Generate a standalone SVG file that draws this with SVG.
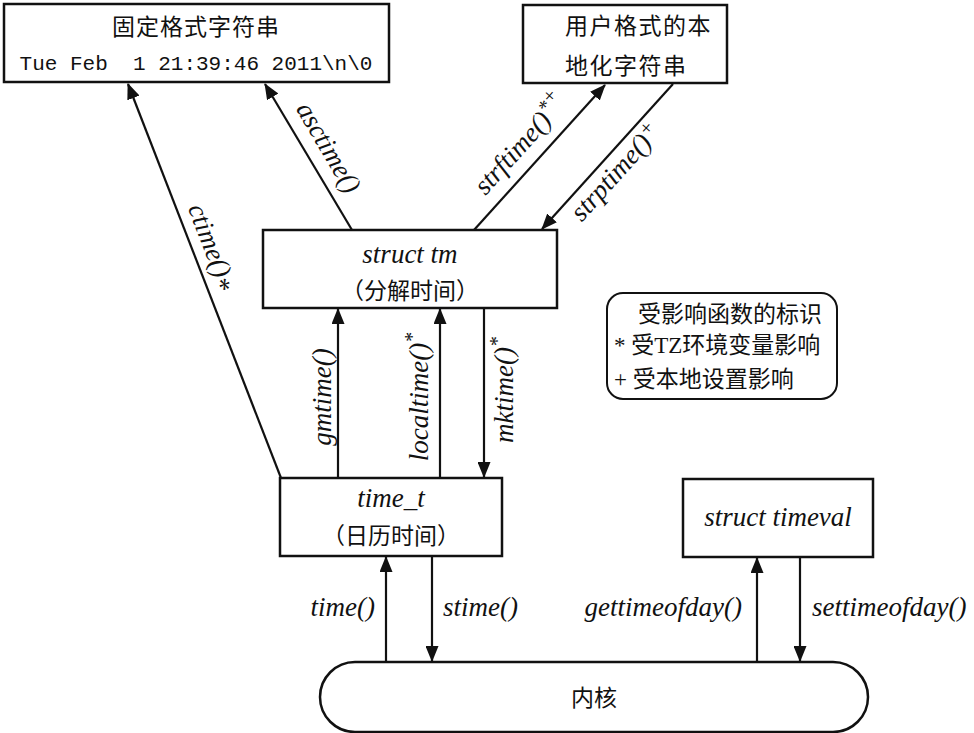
<svg xmlns="http://www.w3.org/2000/svg" width="974" height="733" viewBox="0 0 974 733">
<style>
.box{fill:#fff;stroke:#111;stroke-width:2.5}
.cn{font-family:"Liberation Serif","Noto Sans CJK SC",serif;font-size:23px;fill:#111}
.it{font-family:"Liberation Serif",serif;font-style:italic;font-size:27px;fill:#111}
.mono{font-family:"Liberation Mono",monospace;font-size:21px;fill:#111;white-space:pre}
.con{stroke:#111;stroke-width:2.2;fill:none}
.sup{font-size:20px}
</style>
<defs>
<marker id="ah" markerUnits="userSpaceOnUse" markerWidth="16" markerHeight="13" viewBox="0 0 16 13" refX="15" refY="6.5" orient="auto">
<path d="M0,0 L16,6.5 L0,13 Z" fill="#111"/>
</marker>
</defs>
<rect width="974" height="733" fill="#fff"/>

<g id="fixed-string">
<rect class="box" x="4" y="4" width="385" height="78"/>
<text class="cn" x="196" y="35" text-anchor="middle" font-size="24" letter-spacing="1">固定格式字符串</text>
<text class="mono" x="196" y="70" text-anchor="middle" xml:space="preserve">Tue Feb  1 21:39:46 2011\n\0</text>
</g>

<g id="user-string">
<rect class="box" x="523" y="5" width="204" height="78"/>
<text class="cn" x="565" y="34" letter-spacing="1.5">用户格式的本</text>
<text class="cn" x="565" y="74" letter-spacing="1.5">地化字符串</text>
</g>

<g id="struct-tm">
<rect class="box" x="263" y="230" width="294" height="78"/>
<text class="it" x="410" y="263" text-anchor="middle">struct tm</text>
<text class="cn" x="410" y="299" text-anchor="middle">（分解时间）</text>
</g>

<g id="legend">
<rect x="607" y="293" width="230" height="106" rx="16" ry="16" fill="#fff" stroke="#111" stroke-width="2"/>
<text class="cn" x="638" y="322" font-size="22">受影响函数的标识</text>
<text class="cn" x="614" y="353" font-size="22">* 受TZ环境变量影响</text>
<text class="cn" x="614" y="387" font-size="22">+ 受本地设置影响</text>
</g>

<g id="time-t">
<rect class="box" x="280" y="478" width="222" height="78"/>
<text class="it" x="391" y="507" text-anchor="middle">time_t</text>
<text class="cn" x="391" y="544" text-anchor="middle">（日历时间）</text>
</g>

<g id="timeval">
<rect class="box" x="683" y="479" width="190" height="78"/>
<text class="it" x="778" y="526" text-anchor="middle">struct timeval</text>
</g>

<g id="kernel">
<rect x="320" y="662" width="548" height="70" rx="35" ry="35" fill="#fff" stroke="#111" stroke-width="2.5"/>
<text class="cn" x="594" y="706" text-anchor="middle" font-size="24">内核</text>
</g>

<g id="connectors">
<line class="con" x1="281" y1="478" x2="128" y2="84" marker-end="url(#ah)"/>
<line class="con" x1="352" y1="230" x2="265" y2="84" marker-end="url(#ah)"/>
<line class="con" x1="474" y1="230" x2="605" y2="85" marker-end="url(#ah)"/>
<line class="con" x1="673" y1="84" x2="542" y2="229" marker-end="url(#ah)"/>
<line class="con" x1="338" y1="478" x2="338" y2="309" marker-end="url(#ah)"/>
<line class="con" x1="440" y1="478" x2="440" y2="309" marker-end="url(#ah)"/>
<line class="con" x1="484" y1="309" x2="484" y2="477" marker-end="url(#ah)"/>
<line class="con" x1="386" y1="662" x2="386" y2="557" marker-end="url(#ah)"/>
<line class="con" x1="432" y1="557" x2="432" y2="661" marker-end="url(#ah)"/>
<line class="con" x1="757" y1="662" x2="757" y2="558" marker-end="url(#ah)"/>
<line class="con" x1="800" y1="558" x2="800" y2="661" marker-end="url(#ah)"/>

<text class="it" transform="translate(204,250) rotate(68.8)" text-anchor="middle">ctime()<tspan dy="6">*</tspan></text>
<text class="it" transform="translate(321,152) rotate(59.4)" text-anchor="middle">asctime()</text>
<text class="it" transform="translate(527,150) rotate(-48)" text-anchor="middle">strftime()<tspan class="sup" dy="-9">*</tspan><tspan class="sup" dy="-4">+</tspan></text>
<text class="it" transform="translate(622,178) rotate(-48)" text-anchor="middle">strptime()<tspan class="sup" dy="-9">+</tspan></text>
<text class="it" transform="translate(331,397) rotate(-90)" text-anchor="middle">gmtime()</text>
<text class="it" transform="translate(428,397) rotate(-90)" text-anchor="middle">localtime()<tspan class="sup" dy="-9">*</tspan></text>
<text class="it" transform="translate(513,390) rotate(-90)" text-anchor="middle">mktime()<tspan class="sup" dy="-9">*</tspan></text>
<text class="it" x="375" y="616" text-anchor="end">time()</text>
<text class="it" x="443" y="616">stime()</text>
<text class="it" x="742" y="616" text-anchor="end">gettimeofday()</text>
<text class="it" x="812" y="616">settimeofday()</text>
</g>
</svg>
